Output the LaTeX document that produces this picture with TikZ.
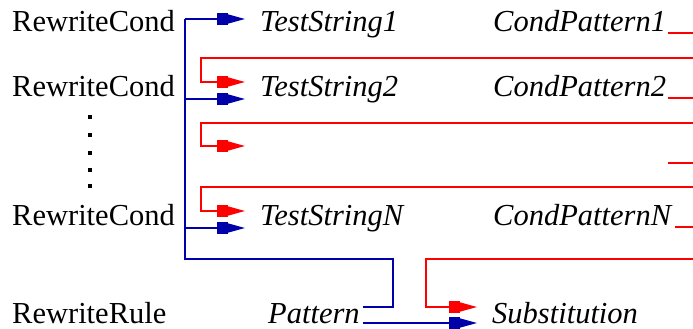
\documentclass[tikz,border=0pt]{standalone}
\usepackage{fontspec}
\setmainfont{Liberation Serif}
\usetikzlibrary{arrows.meta}
\definecolor{lineblue}{RGB}{0,0,170}
\definecolor{linered}{RGB}{255,0,0}
\begin{document}
\begin{tikzpicture}[x=1pt,y=-1pt,
  lbl/.style={anchor=base west,inner sep=0pt,font=\fontsize{30.5}{36}\selectfont},
  ilbl/.style={lbl,font=\fontsize{30.5}{36}\selectfont\itshape},
  bl/.style={draw=lineblue,line width=1.3pt},
  rd/.style={draw=linered,line width=1.3pt},
  tip/.style={-{Rectangle[length=11pt,width=12pt]Triangle[length=17pt,width=9pt]}},
  dotmark/.style={fill=black,minimum size=4pt,inner sep=0pt}]
\useasboundingbox (0,0) rectangle (693,329);
% texts
\node[lbl] (rc1) at (12,32) {RewriteCond};
\node[lbl] (rc2) at (12,96) {RewriteCond};
\node[lbl] (rcN) at (12,225) {RewriteCond};
\node[lbl] (rr) at (12,323) {RewriteRule};
\node[ilbl] (ts1) at (260,32) {TestString1};
\node[ilbl] (ts2) at (260,96) {TestString2};
\node[ilbl] (tsN) at (260,225) {TestStringN};
\node[ilbl] (cp1) at (493,32) {CondPattern1};
\node[ilbl] (cp2) at (493,96) {CondPattern2};
\node[ilbl] (cpN) at (493,225) {CondPatternN};
\node[ilbl] (pat) at (268,323) {Pattern};
\node[ilbl] (sub) at (492,323) {Substitution};
% dots
\foreach \i/\yy in {1/117,2/135,3/153,4/170,5/186}
  \node[dotmark] (dot\i) at (90,\yy) {};
% coordinates
\coordinate (btop) at (185,19);
\coordinate (b2) at (185,99);
\coordinate (bN) at (185,228);
\coordinate (bbot) at (185,259);
\coordinate (bcorner) at (393,259);
\coordinate (bdown) at (393,307);
\coordinate (patend) at (363,307);
\coordinate (patend2) at (363,323);
\coordinate (a1) at (245,19);
\coordinate (a2b) at (245,99);
\coordinate (aNb) at (245,228);
\coordinate (a2r) at (245,82);
\coordinate (a3r) at (245,146);
\coordinate (aNr) at (245,211);
\coordinate (asr) at (477,307);
\coordinate (asb) at (477,323);
\coordinate (r2s) at (693,58);
\coordinate (r3s) at (693,123);
\coordinate (rNs) at (693,187);
\coordinate (rss) at (693,259);
% blue connectors
\draw[bl] (btop) |- (bcorner) -- (bdown) -- (patend);
\draw[bl,tip] (btop) -- (a1);
\draw[bl,tip] (b2) -- (a2b);
\draw[bl,tip] (bN) -- (aNb);
\draw[bl,tip] (patend2) -- (asb);
% red connectors
\draw[rd,tip] (r2s) -- (201,58) |- (a2r);
\draw[rd,tip] (r3s) -- (201,123) |- (a3r);
\draw[rd,tip] (rNs) -- (201,187) |- (aNr);
\draw[rd,tip] (rss) -- (426,259) |- (asr);
% short red ends
\coordinate (e1) at (668,33);
\coordinate (e2) at (668,98);
\coordinate (e3) at (668,163);
\coordinate (e4) at (675,227);
\draw[rd] (e1) -- (693,33);
\draw[rd] (e2) -- (693,98);
\draw[rd] (e3) -- (693,163);
\draw[rd] (e4) -- (693,227);
\end{tikzpicture}
\end{document}
